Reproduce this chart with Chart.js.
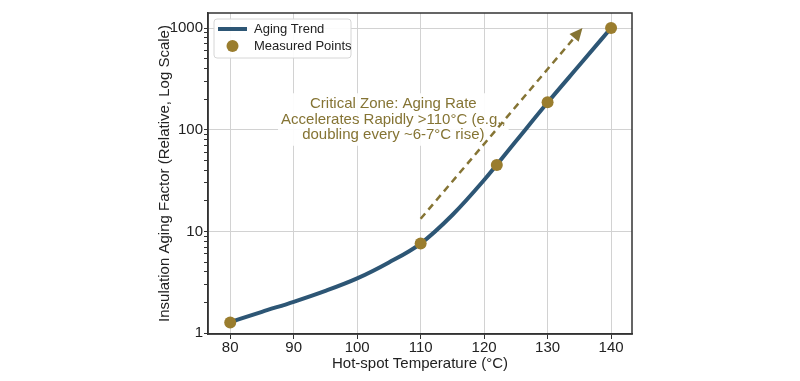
<!DOCTYPE html>
<html><head><meta charset="utf-8">
<script src="https://cdn.jsdelivr.net/npm/chart.js@4.4.1/dist/chart.umd.min.js"></script>
<style>html,body{margin:0;padding:0;background:#fff}#wrap{width:800px;height:381px}</style>
</head><body><div id="wrap"><canvas id="c" width="800" height="381"></canvas></div>
<script>
// ---- data ----
const trendTemps = [80, 85, 90, 95, 100, 105, 110, 115, 120, 125, 130, 135, 140];
const trendFactors = [1.28, 1.62, 2.03, 2.6, 3.45, 4.95, 7.6, 14.5, 32, 77, 185, 430, 1000];
const measuredTemps = [80, 110, 122, 130, 140];
const measuredFactors = [1.27, 7.6, 45, 186, 1000];
const xTickValues = [80, 90, 100, 110, 120, 130, 140];
const yMajorTicks = [1, 10, 100, 1000];
const arrowFrom = [110, 13.3];
const arrowTo = [135.5, 1000];
const noteLines = ["Critical Zone: Aging Rate", "Accelerates Rapidly >110°C (e.g.,", "doubling every ~6-7°C rise)"];
const noteAnchor = [105.7, 126];
const seriesNames = ["Aging Trend", "Measured Points"];

const LINE = '#2d5675', GOLD = '#9a7d2e', NOTE = '#857434', GRID = '#d2d2d2', AX = '#333333';
Chart.defaults.font.family = "'Liberation Sans', Arial, sans-serif";

const yTickValues = [];
for (const d of [1, 10, 100]) for (let k = 1; k <= 9; k++) yTickValues.push(k * d);
yTickValues.push(1000);

const overlay = {
  id: 'overlay',
  beforeDatasetsDraw(chart) {
    const {ctx, scales: {x, y}} = chart;
    const cx = x.getPixelForValue(noteAnchor[0]);
    const cy = y.getPixelForValue(noteAnchor[1]);
    ctx.save();
    ctx.font = "15px 'Liberation Sans', Arial, sans-serif";
    const lh = 15.5;
    let w = 0;
    noteLines.forEach(s => { w = Math.max(w, ctx.measureText(s).width); });
    ctx.fillStyle = 'rgba(255,255,255,0.92)';
    ctx.fillRect(cx - w / 2 - 3, cy - lh * 1.5 - 3, w + 6, lh * 3 + 6);
    ctx.fillStyle = NOTE;
    ctx.textAlign = 'center';
    ctx.textBaseline = 'middle';
    noteLines.forEach((s, i) => ctx.fillText(s, cx, cy + (i - 1) * lh));
    ctx.restore();
  },
  afterDatasetsDraw(chart) {
    const {ctx, chartArea: a, scales: {x, y}} = chart;
    ctx.save();
    // arrow
    const x1 = x.getPixelForValue(arrowFrom[0]), y1 = y.getPixelForValue(arrowFrom[1]);
    const x2 = x.getPixelForValue(arrowTo[0]), y2 = y.getPixelForValue(arrowTo[1]);
    const ang = Math.atan2(y2 - y1, x2 - x1);
    const hl = 13, hw = 6;
    const bx = x2 - hl * Math.cos(ang), by = y2 - hl * Math.sin(ang);
    ctx.strokeStyle = NOTE; ctx.lineWidth = 2.5; ctx.setLineDash([7, 5]);
    ctx.beginPath(); ctx.moveTo(x1, y1); ctx.lineTo(bx, by); ctx.stroke();
    ctx.setLineDash([]);
    ctx.fillStyle = NOTE;
    ctx.beginPath();
    ctx.moveTo(x2, y2);
    ctx.lineTo(bx + hw * Math.sin(ang), by - hw * Math.cos(ang));
    ctx.lineTo(bx - hw * Math.sin(ang), by + hw * Math.cos(ang));
    ctx.closePath(); ctx.fill();
    // frame
    ctx.strokeStyle = AX; ctx.lineWidth = 1.5;
    ctx.strokeRect(a.left, a.top, a.right - a.left, a.bottom - a.top);
    // legend
    const lx = a.left + 6, ly = a.top + 6, lw = 137, lhh = 39;
    ctx.fillStyle = 'rgba(255,255,255,0.9)';
    ctx.strokeStyle = '#d6d6d6'; ctx.lineWidth = 1;
    ctx.beginPath();
    if (ctx.roundRect) ctx.roundRect(lx, ly, lw, lhh, 3); else ctx.rect(lx, ly, lw, lhh);
    ctx.fill(); ctx.stroke();
    ctx.strokeStyle = LINE; ctx.lineWidth = 4;
    ctx.beginPath(); ctx.moveTo(lx + 4, ly + 10); ctx.lineTo(lx + 33, ly + 10); ctx.stroke();
    ctx.fillStyle = GOLD;
    ctx.beginPath(); ctx.arc(lx + 18.5, ly + 27, 6, 0, Math.PI * 2); ctx.fill();
    ctx.fillStyle = '#222';
    ctx.font = "13px 'Liberation Sans', Arial, sans-serif";
    ctx.textBaseline = 'middle'; ctx.textAlign = 'left';
    ctx.fillText(seriesNames[0], lx + 40, ly + 10);
    ctx.fillText(seriesNames[1], lx + 40, ly + 27);
    ctx.restore();
  }
};

new Chart(document.getElementById('c'), {
  data: {
    datasets: [
      {
        type: 'scatter', label: seriesNames[1], order: 1,
        data: measuredTemps.map((t, i) => ({x: t, y: measuredFactors[i]})),
        backgroundColor: GOLD, borderWidth: 0, pointRadius: 6, pointHoverRadius: 6
      },
      {
        type: 'line', label: seriesNames[0], order: 2,
        data: trendTemps.map((t, i) => ({x: t, y: trendFactors[i]})),
        borderColor: LINE, borderWidth: 4, pointRadius: 0, fill: false,
        cubicInterpolationMode: 'monotone', borderCapStyle: 'round'
      }
    ]
  },
  options: {
    responsive: false, animation: false, devicePixelRatio: 1,
    layout: {padding: {left: 0, top: 13, right: 168, bottom: 0}},
    plugins: {legend: {display: false}, tooltip: {enabled: false}},
    scales: {
      x: {
        type: 'linear', min: 76.5, max: 143.3,
        afterBuildTicks: s => { s.ticks = xTickValues.map(v => ({value: v})); },
        afterFit: s => { s.height = 47; },
        grid: {color: GRID, tickColor: AX, tickLength: 5, lineWidth: 1},
        border: {color: AX, width: 1.5},
        ticks: {color: '#222', font: {size: 15}, padding: 0, maxRotation: 0, autoSkip: false},
        title: {display: true, text: 'Hot-spot Temperature (°C)', color: '#222', font: {size: 15}, padding: {top: 0, bottom: 8}}
      },
      y: {
        type: 'logarithmic', min: 0.98, max: 1405,
        afterBuildTicks: s => { s.ticks = yTickValues.map(v => ({value: v, major: yMajorTicks.includes(v)})); },
        afterFit: s => { s.width = 208; },
        grid: {
          color: c => (c.tick && yMajorTicks.includes(c.tick.value)) ? GRID : 'rgba(0,0,0,0)',
          tickColor: AX, tickLength: 4, lineWidth: 1
        },
        border: {color: AX, width: 1.5},
        ticks: {
          color: '#222', font: {size: 15}, padding: 1, autoSkip: false,
          callback: v => yMajorTicks.includes(v) ? String(v) : ''
        },
        title: {display: true, text: 'Insulation Aging Factor (Relative, Log Scale)', color: '#222', font: {size: 15}, padding: {top: 156, bottom: 0}}
      }
    }
  },
  plugins: [overlay]
});
</script></body></html>
